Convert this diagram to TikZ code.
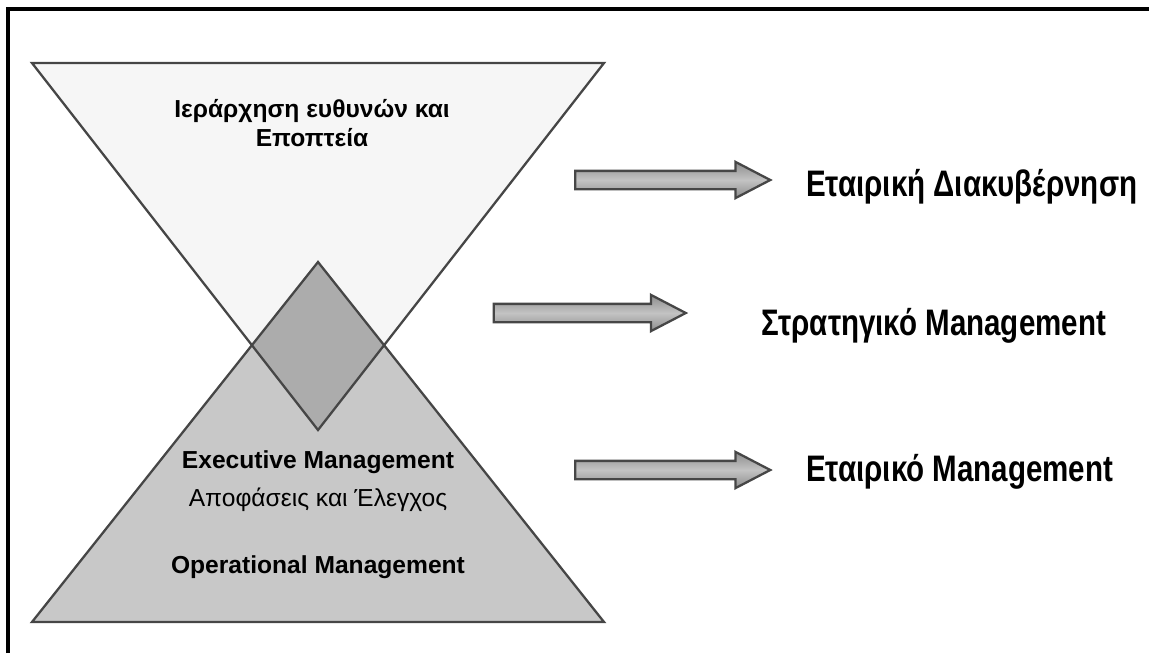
\documentclass[tikz,border=0pt]{standalone}
\usepackage{fontspec}
\setmainfont{Liberation Sans}
\newfontfamily\narrowfont{Liberation Sans}[FakeStretch=0.8]
\usetikzlibrary{shapes.arrows, positioning}
\definecolor{edgegray}{RGB}{70,70,70}
\definecolor{topfill}{RGB}{246,246,246}
\definecolor{lowfill}{RGB}{200,200,200}
\definecolor{overlapfill}{RGB}{172,172,172}
\definecolor{arrowdark}{RGB}{140,140,140}
\definecolor{arrowlight}{RGB}{195,195,195}
\tikzset{
  tri/.style={draw=edgegray, line width=1.3pt, line join=miter},
  bigarrow/.style={single arrow, draw=edgegray, line width=1.3pt,
    top color=arrowdark, bottom color=arrowdark, middle color=arrowlight,
    inner sep=0.16cm, minimum width=0.68cm,
    single arrow head extend=0.18cm, single arrow tip angle=55},
  lbl/.style={font=\narrowfont\bfseries\fontsize{21}{24}\selectfont, text=black, anchor=west},
  tritext/.style={font=\fontsize{14}{17}\selectfont, text=black, align=center},
  tritextb/.style={tritext, font=\bfseries\fontsize{14}{17}\selectfont},
}

\begin{document}
\begin{tikzpicture}[x=0.02cm, y=-0.02cm]
\useasboundingbox (0,0) rectangle (1149,653);

% frame
\draw[black, line width=2pt] (8,653) -- (8,9) -- (1149,9);

% the two triangles and their overlap
\coordinate (UL) at (32,63);
\coordinate (UR) at (604,63);
\coordinate (UA) at (318,430);
\coordinate (LL) at (32,622);
\coordinate (LR) at (604,622);
\coordinate (LA) at (318,262);
\coordinate (DL) at (252,345);
\coordinate (DR) at (384,345);

\fill[topfill] (UL) -- (UR) -- (UA) -- cycle;
\fill[lowfill] (LL) -- (LR) -- (LA) -- cycle;
\fill[overlapfill] (LA) -- (DR) -- (UA) -- (DL) -- cycle;
\draw[tri] (UL) -- (UR) -- (UA) -- cycle;
\draw[tri] (LL) -- (LR) -- (LA) -- cycle;

\node[tritextb] (top) at (312,123) {Ιεράρχηση ευθυνών και\\Εποπτεία};
\node[tritextb] (exec) at (318,462) {Executive Management};
\node[tritext, below=1pt of exec] (dec) {Αποφάσεις και Έλεγχος};
\node[tritextb] (oper) at (318,567) {Operational Management};

% arrows and levels
\node[bigarrow, minimum height=3.9cm] (a1) at (664,180) {};
\node[lbl] (gov) at (800,187) {Εταιρική Διακυβέρνηση};

\node[bigarrow, minimum height=3.84cm] (a2) at (581,313) {};
\node[lbl] (strat) at (755,326) {Στρατηγικό Management};

\node[bigarrow, minimum height=3.9cm] (a3) at (664,470) {};
\node[lbl] (corp) at (800,472) {Εταιρικό Management};

\end{tikzpicture}
\end{document}
